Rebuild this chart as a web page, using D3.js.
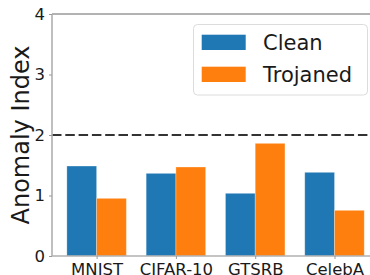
<!DOCTYPE html>
<html>
<head>
<meta charset="utf-8">
<script src="https://cdn.jsdelivr.net/npm/d3@7"></script>
<style>
  body { margin: 0; background: #fff; }
  text { font-family: "DejaVu Sans", sans-serif; fill: #1a1a1a; }
</style>
</head>
<body>
<div id="chart"></div>
<script>
var datasets = ["MNIST", "CIFAR-10", "GTSRB", "CelebA"];
var seriesNames = ["Clean", "Trojaned"];
var cleanVals = [1.487, 1.366, 1.036, 1.383];
var trojanVals = [0.953, 1.471, 1.862, 0.755];
var yTicks = [0, 1, 2, 3, 4];
var threshold = 2;
var colors = ["#1f77b4", "#ff7f0e"];

var w = 370, h = 275;
var mLeft = 52, mTop = 14, mBottom = 256;
var barW = 0.375;

var svg = d3.select("#chart").append("svg")
  .attr("width", w).attr("height", h);

// x in "group index" units, like matplotlib
var x = d3.scaleLinear()
  .domain([-0.5625, 3.5625])
  .range([mLeft, mLeft + 4.125 * 79.3]);
var y = d3.scaleLinear().domain([0, 4]).range([mBottom, mTop]);

var rows = datasets.map((d, i) => ({ name: d, i: i, vals: [cleanVals[i], trojanVals[i]] }));

var bars = svg.append("g");
rows.forEach((r) => {
  r.vals.forEach((v, s) => {
    var x0 = s == 0 ? r.i - barW : r.i;
    bars.append("rect")
      .attr("x", x(x0))
      .attr("width", x(x0 + barW) - x(x0))
      .attr("y", y(v))
      .attr("height", y(0) - y(v))
      .attr("fill", colors[s])
      .attr("stroke", "#ffffff")
      .attr("stroke-opacity", 0.35)
      .attr("stroke-width", 0.8);
  });
});

// threshold line
svg.append("line")
  .attr("x1", mLeft).attr("x2", w)
  .attr("y1", y(threshold)).attr("y2", y(threshold))
  .attr("stroke", "#333")
  .attr("stroke-width", 2)
  .attr("stroke-dasharray", "9.5,3.8");

// spines
svg.append("line")
  .attr("x1", mLeft).attr("x2", w).attr("y1", mTop).attr("y2", mTop)
  .attr("stroke", "#666").attr("stroke-width", 1);
svg.append("line")
  .attr("x1", mLeft).attr("x2", mLeft).attr("y1", mTop).attr("y2", mBottom)
  .attr("stroke", "#b0b0b0").attr("stroke-width", 1.6);
svg.append("line")
  .attr("x1", mLeft).attr("x2", w).attr("y1", mBottom).attr("y2", mBottom)
  .attr("stroke", "#b0b0b0").attr("stroke-width", 1.6);

// y axis
var yAxis = d3.axisLeft(y).tickValues(yTicks).tickFormat(d3.format("d")).tickSize(3).tickPadding(4);
var gy = svg.append("g").attr("transform", "translate(" + mLeft + ",0)").call(yAxis);
gy.select(".domain").remove();
gy.selectAll(".tick line").attr("stroke", "#999");
gy.selectAll(".tick text").style("font-size", "16.5px").attr("fill", "#1a1a1a");

// x axis
var xAxis = d3.axisBottom(x).tickValues(d3.range(datasets.length))
  .tickFormat((d) => datasets[d]).tickSize(3).tickPadding(4);
var gx = svg.append("g").attr("transform", "translate(0," + mBottom + ")").call(xAxis);
gx.select(".domain").remove();
gx.selectAll(".tick line").attr("stroke", "#999");
gx.selectAll(".tick text").style("font-size", "16.5px").attr("fill", "#1a1a1a");

// y label
svg.append("text")
  .attr("transform", "translate(29,135) rotate(-90)")
  .attr("text-anchor", "middle")
  .style("font-size", "24px")
  .text("Anomaly Index");

// legend
var lg = svg.append("g");
lg.append("rect")
  .attr("x", 193.5).attr("y", 24.5)
  .attr("width", 174).attr("height", 70.5)
  .attr("rx", 4)
  .attr("fill", "#fff").attr("fill-opacity", 0.8)
  .attr("stroke", "#dcdcdc").attr("stroke-width", 1);
seriesNames.forEach((n, i) => {
  var yy = 34.7 + i * 32;
  lg.append("rect")
    .attr("x", 201.7).attr("y", yy)
    .attr("width", 44).attr("height", 15.3)
    .attr("fill", colors[i]);
  lg.append("text")
    .attr("x", 263).attr("y", yy + 7.6)
    .attr("dy", "0.36em")
    .style("font-size", "21px")
    .text(n);
});
</script>
</body>
</html>
